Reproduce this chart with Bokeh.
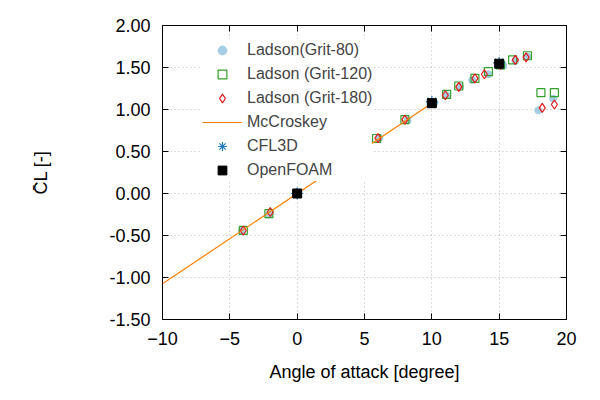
from bokeh.plotting import figure
from bokeh.models import Legend, LegendItem, LinearAxis, Range1d, NumeralTickFormatter, FixedTicker
from bokeh.embed import file_html
from bokeh.resources import INLINE

g80_x = [-4.1, -2.1, 0.0, 2.0, 4.0, 6.1, 8.2, 10.2, 11.1, 12.1, 13.0, 14.2, 15.3, 16.2, 17.1, 17.9, 19.0]
g80_y = [-0.44, -0.25, 0.0, 0.21, 0.43, 0.66, 0.87, 1.08, 1.17, 1.27, 1.35, 1.42, 1.52, 1.58, 1.63, 0.99, 1.13]
g120_x = [-4.0, -2.1, 0.0, 2.1, 4.0, 5.9, 8.0, 10.0, 11.1, 12.0, 13.2, 14.2, 15.1, 16.0, 17.1, 18.1, 19.1]
g120_y = [-0.44, -0.24, 0.0, 0.22, 0.44, 0.655, 0.88, 1.08, 1.18, 1.28, 1.37, 1.45, 1.53, 1.59, 1.64, 1.20, 1.20]
g180_x = [-4.0, -2.0, 0.0, 2.0, 4.0, 6.0, 8.0, 10.0, 11.0, 12.0, 13.2, 13.9, 15.1, 16.2, 17.0, 18.2, 19.1]
g180_y = [-0.44, -0.22, 0.0, 0.22, 0.44, 0.66, 0.88, 1.08, 1.17, 1.27, 1.37, 1.42, 1.53, 1.59, 1.62, 1.02, 1.06]
mc_x = [-10.0, 10.0]
mc_y = [-1.075, 1.075]
cfl_x = [0.0, 10.0, 15.0]
cfl_y = [0.0, 1.09, 1.555]
of_x = [0.0, 10.0, 15.0]
of_y = [0.0, 1.075, 1.545]

FONT = "Liberation Sans"
p = figure(width=584, height=384, output_backend="svg", toolbar_location=None,
           x_range=Range1d(-10, 20), y_range=Range1d(-1.5, 2.0),
           min_border_left=162, min_border_right=18, min_border_top=25, min_border_bottom=63)
p.outline_line_color = "black"
p.outline_line_width = 1

for ax in (p.xaxis[0], p.yaxis[0]):
    ax.major_tick_in = 6; ax.major_tick_out = 0; ax.minor_tick_in = 0; ax.minor_tick_out = 0
    ax.axis_line_color = None
    ax.major_label_text_font = FONT
    ax.major_label_text_font_size = "18px"
    ax.major_label_text_color = "black"
    ax.axis_label_text_font = FONT
    ax.axis_label_text_font_size = "18px"
    ax.axis_label_text_font_style = "normal"
    ax.axis_label_text_color = "black"
    ax.major_label_standoff = 12
p.xaxis.axis_label_standoff = 14
p.yaxis.axis_label_standoff = 55
p.xaxis.ticker = FixedTicker(ticks=[-10, -5, 0, 5, 10, 15, 20])
p.yaxis.ticker = FixedTicker(ticks=[-1.5, -1, -0.5, 0, 0.5, 1, 1.5, 2])
p.yaxis.formatter = NumeralTickFormatter(format="0.00")
p.xaxis.axis_label = "Angle of attack [degree]"
p.yaxis.axis_label = "C̄L [-]"
for loc, t in (("right", p.yaxis.ticker), ("above", p.xaxis.ticker)):
    a = LinearAxis(ticker=t, major_label_text_color=None, major_label_text_font_size="6px",
                   major_tick_in=6, major_tick_out=0,
                   minor_tick_in=0, minor_tick_out=0, axis_line_color=None)
    p.add_layout(a, loc)
p.grid.grid_line_color = "#aaaaaa"
p.grid.grid_line_dash = "1 3"
p.grid.grid_line_alpha = 0.8

r1 = p.scatter(g80_x, g80_y, marker="circle", size=7, fill_color="#a6cee3", line_color="#a6cee3")
r2 = p.scatter(g120_x, g120_y, marker="square", size=8, fill_color=None, line_color="#33a02c", line_width=1.2)
r3 = p.scatter(g180_x, g180_y, marker="diamond", size=9, fill_color=None, line_color="#e31a1c", line_width=1.2)
r4 = p.line(mc_x, mc_y, line_color="#ff7f00", line_width=1.2)
r5 = p.scatter(cfl_x, cfl_y, marker="asterisk", size=12, line_color="#1f78b4", line_width=1.2)
r6 = p.scatter(of_x, of_y, marker="square", size=9, fill_color="black", line_color="black")

legend = Legend(items=[LegendItem(label=l, renderers=[r]) for l, r in [
    ("Ladson(Grit-80)", r1), ("Ladson (Grit-120)", r2), ("Ladson (Grit-180)", r3),
    ("McCroskey", r4), ("CFL3D", r5), ("OpenFOAM", r6)]],
    location=(40, 138), label_text_font=FONT, label_text_font_size="16px",
    border_line_color=None, background_fill_alpha=1.0, spacing=2, padding=4, margin=0,
    glyph_width=40, label_height=22, glyph_height=22)
p.add_layout(legend)

open("out.html", "w").write(file_html(p, INLINE))
